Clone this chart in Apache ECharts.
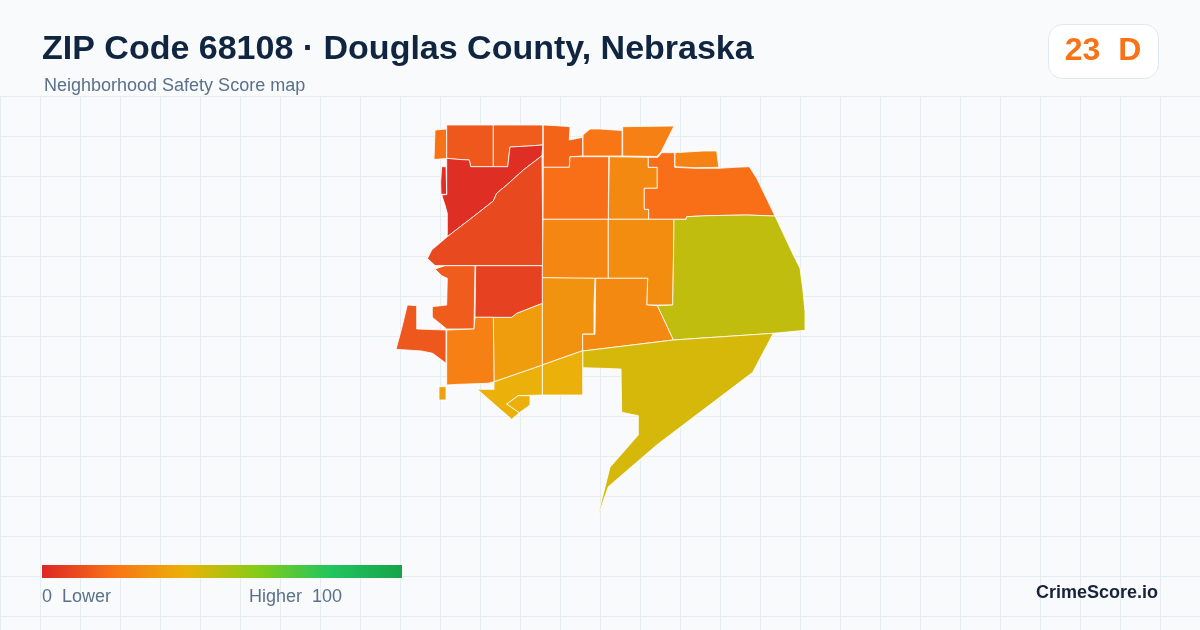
<!DOCTYPE html>
<html><head><meta charset="utf-8">
<style>html,body{margin:0;padding:0;background:#f8fafc}#c{width:1200px;height:630px}</style>
<script src="https://cdn.jsdelivr.net/npm/echarts@6/dist/echarts.min.js"></script>
</head><body><div id="c"></div>
<script>
const titleText = 'ZIP Code 68108 · Douglas County, Nebraska';
const subtitleText = 'Neighborhood Safety Score map';
const badgeText = '23  D';
const brandText = 'CrimeScore.io';
const legendLow = '0  Lower';
const legendHigh = 'Higher  100';
const scaleColors = ['#dc2626','#f97316','#eab308','#84cc16','#22c55e','#16a34a'];

const tractIds = ['t01','t02','t03','t04','t05','t06','t07','t08','t09','t10','t11','t12','t13','t14','t15','t16','t17','t18','t19','t20','t21','t22','t23','t24','t25','t26','t27'];
const tractScores = [20,13,14,2,9,16,21,24,27,19,25,19,26,28,48,30,27,44,39,39,39,33,7,14,13,24,34];
const tractOutlines = [
 [[[435,130],[446.5,129],[446.5,158.5],[434,159.5]]],
 [[[446.7,125],[493.3,125],[493.3,166.7],[470.7,166.7],[469.3,160],[456.7,159.3],[446.7,158.3]]],
 [[[493.3,125],[542.7,125],[542.7,145],[528.3,146],[510,147],[507.7,166.7],[493.3,166.7]]],
 [[[446.7,158.3],[456.7,159.3],[469.3,160],[470.7,166.7],[507.7,166.7],[510,147],[528.3,146],[542.7,145],[542,155.7],[523.3,170],[506.7,185],[496.7,193.3],[493.3,201],[473.3,216.7],[447.3,236.7],[447.3,213.3],[445,205],[441.7,195],[446.7,194.5]],
  [[441.7,166.7],[446,166.7],[446.7,194.3],[441,194.3],[440.7,181.7]]],
 [[[447.3,236.7],[473.3,216.7],[493.3,201],[496.7,193.3],[506.7,185],[523.3,170],[542,155.7],[543,265.5],[435,265.5],[427.5,258.5],[431.7,250]]],
 [[[543.3,125],[556.7,125.7],[570,126.7],[569.3,140],[582.7,137.3],[582.7,156],[570,156.7],[569.3,167.3],[543.3,167.3]]],
 [[[583,156],[583,135],[590,129],[600,129],[622,130.5],[622,156]]],
 [[[622.7,126.7],[674,126],[661,152],[657,156.5],[622.7,156]]],
 [[[609.3,156.7],[648.3,157.3],[648.3,167.3],[657.3,167.3],[657.3,188.3],[644.3,188.3],[644.3,209.3],[648.7,209.3],[648.7,219.3],[608.3,219.3]]],
 [[[661.7,152.7],[674.7,152.7],[674.7,167.3],[695,168.3],[719,168.3],[735,167.3],[749.3,166.7],[756.7,178.3],[775,216],[746.7,215],[706.7,215.7],[686.7,216.7],[686,219.3],[648.7,219.3],[648.7,209.3],[644.3,209.3],[644.3,188.3],[657.3,188.3],[657.3,167.3],[648.3,167.3],[648.3,157.3],[658,157.3]]],
 [[[675,152.7],[703.3,151],[716.7,151],[718.7,167.3],[695,167.7],[675,166.7]]],
 [[[543.3,167.3],[569.3,167.3],[570,156.7],[608.7,156.7],[608.3,219.3],[543,219.3]]],
 [[[543,219.3],[608.3,219.3],[608.3,278.3],[575,278.3],[542.3,277.7]]],
 [[[608.3,219.3],[674,219.3],[673.3,270],[672.7,305],[646.7,305],[647.7,278.3],[608.3,278.3]]],
 [[[674,219.3],[686,219.3],[686.7,216.7],[706.7,215.7],[746.7,215],[775,216],[793.3,255],[800,268.3],[802.7,288.3],[805,311.7],[805,330.3],[773.3,333.3],[673.3,340],[657.3,305.7],[672.7,305],[673.3,270]]],
 [[[542.3,277.7],[595,278.3],[594,305],[594,334],[582.7,334],[582.7,350.7],[542.3,365]]],
 [[[595.7,278.3],[647.7,278.3],[646.7,305],[657.3,305.7],[673.3,340],[582.7,351],[582.7,334.3],[595,334.3]]],
 [[[582.7,351],[673.3,340],[773.3,333.3],[752.7,372.3],[656.7,445],[608.3,486.7],[597,519],[610,467.3],[638.3,435],[638.3,415.7],[621.7,412.3],[621,369],[601.7,368.3],[582.7,367.7]]],
 [[[542.3,365],[582.7,350.7],[582.7,395],[542.3,395]]],
 [[[494,381.7],[542.3,365],[542.3,395],[518.3,395.7],[506.7,404],[519.3,412.7],[511.7,419.3],[477.3,389.3],[494,389.3]]],
 [[[518.3,395.7],[530,395.7],[530,405],[519.3,412.7],[506.7,404]]],
 [[[493.3,317.3],[511.7,317.3],[516.7,313.3],[542.3,303.3],[542.3,365],[494,381.7]]],
 [[[475.7,265.7],[542.3,265.7],[542.3,303.3],[516.7,313.3],[511.7,317.3],[475,317.3]]],
 [[[435,269],[445,265.7],[475,265.7],[474,329],[446.7,329],[432.3,317.3],[432.3,306.7],[446.7,305],[447.3,278.3],[441.7,275.7]]],
 [[[407.3,305],[416.7,305.7],[416.7,329],[446,330],[446,363.3],[432.7,353.3],[421.7,351],[396,349.3],[401.7,328.3]]],
 [[[446.7,330],[474,329],[475,317.3],[493.3,317.3],[494,381.7],[488,383.3],[458.3,384.3],[446.7,385]]],
 [[[439,386.7],[446,386.7],[446,400],[439,400]]]
];

const geojson = {
  type: 'FeatureCollection',
  features: tractIds.map((id, i) => ({
    type: 'Feature',
    properties: { name: id },
    geometry: { type: 'MultiPolygon', coordinates: tractOutlines[i].map(r => [r.concat([r[0]])]) }
  }))
};
echarts.registerMap('zip68108', geojson);

const gridLines = [];
const gridColor = '#e5edf1';
for (let x = 0; x <= 1200; x += 40) {
  gridLines.push({ type:'line', silent:true, z:0, shape:{ x1:x+0.5, y1:96, x2:x+0.5, y2:630 }, style:{ stroke:gridColor, lineWidth:1 } });
}
for (let y = 96; y <= 630; y += 40) {
  gridLines.push({ type:'line', silent:true, z:0, shape:{ x1:0, y1:y+0.5, x2:1200, y2:y+0.5 }, style:{ stroke:gridColor, lineWidth:1 } });
}
const fontFam = '"Liberation Sans", Arial, sans-serif';
const legendStops = scaleColors.map((color,i)=>({ offset:i/(scaleColors.length-1), color }));

const chart = echarts.init(document.getElementById('c'), null, { renderer:'canvas' });
chart.setOption({
  animation:false,
  backgroundColor:'#f8fafc',
  title:[
    { text:titleText, left:42, top:33, padding:0, textStyle:{ fontFamily:fontFam, fontSize:34, fontWeight:'bold', color:'#0f2540' } },
    { text:subtitleText, left:44, top:77, padding:0, textStyle:{ fontFamily:fontFam, fontSize:18, fontWeight:'normal', color:'#5b7089' } }
  ],
  visualMap:{
    type:'continuous', show:false, min:0, max:100, seriesIndex:0,
    inRange:{ color:scaleColors }
  },
  graphic:gridLines.concat([
    { type:'rect', z:5, shape:{ x:42, y:565, width:360, height:13 }, style:{ fill:new echarts.graphic.LinearGradient(0,0,1,0,legendStops) } },
    { type:'rect', z:5, shape:{ x:1048.5, y:24.5, width:110, height:54, r:14 }, style:{ fill:'#fff', stroke:'#e2e8f0', lineWidth:1 } },
    { type:'text', z:6, style:{ x:1103, y:51.5, text:badgeText, align:'center', verticalAlign:'middle', fill:'#f97316', font:'bold 32px '+fontFam } },
    { type:'text', z:6, style:{ x:42, y:597.5, text:legendLow, align:'left', verticalAlign:'middle', fill:'#5b7089', font:'18px '+fontFam } },
    { type:'text', z:6, style:{ x:249, y:597.5, text:legendHigh, align:'left', verticalAlign:'middle', fill:'#5b7089', font:'18px '+fontFam } },
    { type:'text', z:6, style:{ x:1158, y:593.5, text:brandText, align:'right', verticalAlign:'middle', fill:'#16233b', font:'bold 18px '+fontFam } }
  ]),
  series:[{
    type:'map', map:'zip68108', roam:false, silent:true,
    projection:{ project:p=>p, unproject:p=>p },
    left:396, top:125, width:409, height:394,
    label:{ show:false },
    itemStyle:{ borderColor:'#ffffff', borderWidth:0.8 },
    data:tractIds.map((id,i)=>({ name:id, value:tractScores[i] }))
  }]
});
</script></body></html>
